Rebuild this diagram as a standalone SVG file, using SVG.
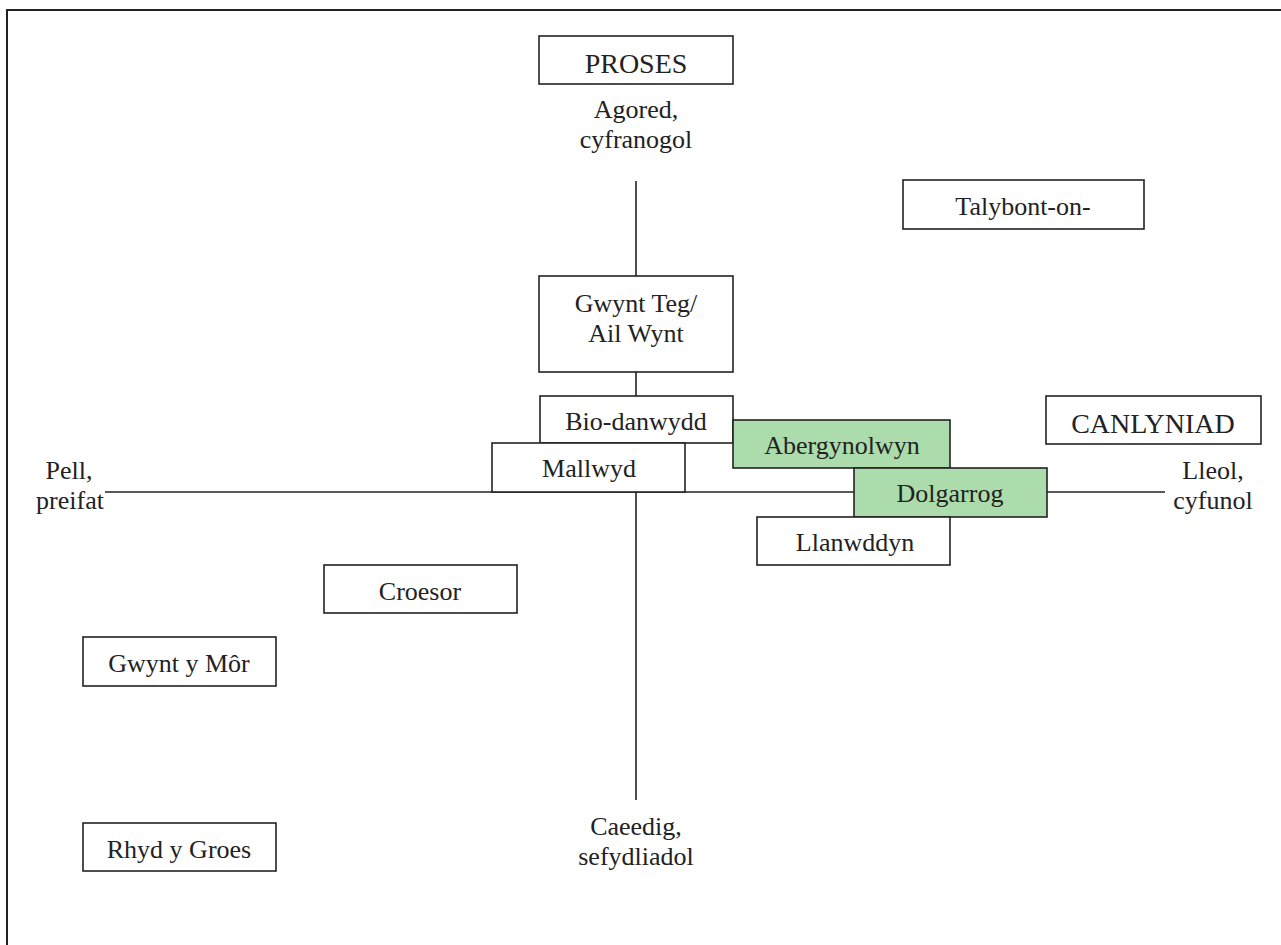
<svg xmlns="http://www.w3.org/2000/svg" width="1281" height="945" viewBox="0 0 1281 945">
<style>
.box{fill:#fff;stroke:#222;stroke-width:1.6}
.grn{fill:#acdcac;stroke:#222;stroke-width:1.6}
.ln{stroke:#222;stroke-width:1.6;fill:none}
text{font-family:"Liberation Serif","Times New Roman",serif;font-size:26px;fill:#222;text-anchor:middle}
.cap{font-size:28px}
</style>
<rect width="1281" height="945" fill="#fff"/>
<path d="M7,945 V10 H1281" fill="none" stroke="#222" stroke-width="2"/>
<g id="connectors">
<line class="ln" x1="636" y1="181" x2="636" y2="800"/>
<line class="ln" x1="105" y1="492" x2="1165" y2="492"/>
</g>
<g id="proses"><rect class="box" x="539" y="36" width="194" height="48"/><text class="cap" x="636" y="73">PROSES</text></g>
<g id="agored"><text x="636" y="118">Agored,</text><text x="636" y="148">cyfranogol</text></g>
<g id="talybont"><rect class="box" x="903" y="180" width="241" height="49"/><text x="1023" y="215">Talybont-on-</text></g>
<g id="gwynt-teg"><rect class="box" x="539" y="276" width="194" height="96"/><text x="636" y="312">Gwynt Teg/</text><text x="636" y="342">Ail Wynt</text></g>
<g id="bio-danwydd"><rect class="box" x="540" y="396" width="193" height="47"/><text x="636" y="430">Bio-danwydd</text></g>
<g id="mallwyd"><rect class="box" x="492" y="443" width="193" height="49"/><text x="589" y="477">Mallwyd</text></g>
<g id="abergynolwyn"><rect class="grn" x="733" y="420" width="217" height="48"/><text x="842" y="454">Abergynolwyn</text></g>
<g id="dolgarrog"><rect class="grn" x="854" y="468" width="193" height="49"/><text x="950" y="502">Dolgarrog</text></g>
<g id="llanwddyn"><rect class="box" x="757" y="517" width="193" height="48"/><text x="855" y="551">Llanwddyn</text></g>
<g id="canlyniad"><rect class="box" x="1046" y="396" width="215" height="48"/><text class="cap" x="1153" y="433">CANLYNIAD</text></g>
<g id="lleol"><text x="1213" y="479">Lleol,</text><text x="1213" y="509">cyfunol</text></g>
<g id="pell"><text x="69" y="479">Pell,</text><text x="70" y="509">preifat</text></g>
<g id="croesor"><rect class="box" x="324" y="565" width="193" height="48"/><text x="420" y="600">Croesor</text></g>
<g id="gwynt-y-mor"><rect class="box" x="83" y="637" width="193" height="49"/><text x="179" y="672">Gwynt y Môr</text></g>
<g id="rhyd-y-groes"><rect class="box" x="83" y="823" width="193" height="48"/><text x="179" y="858">Rhyd y Groes</text></g>
<g id="caeedig"><text x="636" y="835">Caeedig,</text><text x="636" y="865">sefydliadol</text></g>
</svg>
